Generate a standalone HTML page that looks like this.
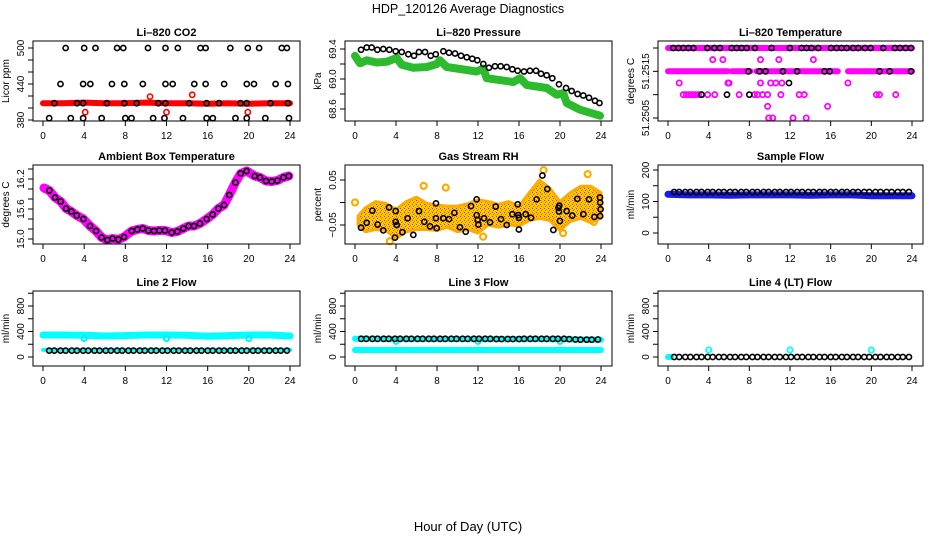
<!DOCTYPE html>
<html><head><meta charset="utf-8">
<style>
html,body{margin:0;padding:0;background:#fff;}
svg{display:block;font-family:"Liberation Sans",Arial,sans-serif;}
</style></head>
<body>
<svg id="chart" width="936" height="540" viewBox="0 0 936 540">
<defs>
<pattern id="orangeTex" width="4" height="4" patternUnits="userSpaceOnUse">
<rect width="4" height="4" fill="#ffd400"/>
<rect x="0" y="0" width="1" height="1" fill="#ff2000"/>
<rect x="2" y="1" width="1" height="1" fill="#ff7000"/>
<rect x="1" y="2" width="1" height="1" fill="#ff3000"/>
<rect x="3" y="3" width="1" height="1" fill="#ff9000"/>
</pattern>
</defs>
<text x="468" y="13" text-anchor="middle" font-size="12.5">HDP_120126  Average Diagnostics</text>
<text x="468" y="531" text-anchor="middle" font-size="13">Hour of Day (UTC)</text>
</svg>
<script>
// ---------- data ----------
const xTicks = [0,4,8,12,16,20,24];

const co2H500 = [2.2,4.0,5.1,7.2,7.8,10.2,11.9,13.1,15.3,15.8,18.2,19.9,21.0,23.2,23.7];
const co2H440 = [1.7,3.9,4.6,6.7,7.9,9.7,11.9,12.6,14.7,15.8,17.6,19.8,20.5,22.6,23.8];
const co2H408 = [1.1,3.3,3.9,6.2,7.9,9.1,11.2,11.9,14.2,15.9,17.1,19.2,19.8,22.1,23.8];
const co2H383 = [0.6,2.7,3.9,5.7,8.0,8.6,10.7,11.8,13.6,15.9,16.5,18.7,19.8,21.6,23.9];
const co2Levels = [500,440,408,383];
const co2RedHours = [0,2,4,6,8,10,12,14,16,18,20,22,24];
const co2RedVals = [408,408,409,408,408,409,408,408,407,408,407,408,408];
const co2RedPtH = [4.1,12.0,19.9,10.4,14.5];
const co2RedPtV = [393,393,393,419,422];

const presH = [0.59,1.14,1.63,2.18,2.76,3.35,3.97,4.56,5.2,5.76,6.24,6.83,7.39,7.88,8.62,9.17,9.76,10.34,10.9,11.44,11.93,12.52,13.07,13.66,14.21,14.8,15.35,15.87,16.49,17.07,17.66,18.15,18.7,19.25,19.9,20.59,21.14,21.72,22.27,22.83,23.41,23.85];
const presV = [69.39,69.42,69.42,69.39,69.40,69.39,69.37,69.36,69.33,69.31,69.36,69.36,69.31,69.33,69.37,69.35,69.34,69.31,69.29,69.27,69.25,69.20,69.15,69.17,69.17,69.16,69.13,69.11,69.10,69.11,69.11,69.07,69.05,69.01,68.93,68.88,68.84,68.80,68.78,68.75,68.71,68.68];
const presGreenH = [0,0.49,1.14,2.12,3.1,4.07,4.56,5.69,7,7.97,8.29,8.95,10.9,11.87,12.52,12.85,15.44,16.1,16.75,18.7,19.68,20.32,20.65,21.95,23.9];
const presGreenV = [69.31,69.21,69.25,69.22,69.23,69.28,69.19,69.15,69.16,69.20,69.25,69.16,69.12,69.10,69.14,69.01,68.96,69.01,68.92,68.88,68.79,68.81,68.68,68.59,68.51];

const tTop = 51.2520, tMid = 51.2515;
const tMagSegStart = [0,6.3,8.7,17.7];
const tMagSegEnd = [5.9,8.1,16.7,24];
const tBlackTopH = [0.52,1.02,1.5,2.0,2.5,3.87,4.56,5.11,6.26,6.75,7.24,7.74,8.55,10.19,11.99,13.14,13.63,14.12,14.78,16.03,16.58,17.08,17.57,18.22,18.71,19.37,19.93,21.17,22.32,22.81,23.37,23.9];
const tBlackMidH = [7.9,9.0,9.6,11.3,12.7,15.4,15.9,20.8,21.8,23.9];
const tBlackOthH = [3.3,5.8,8.0,11.9];
const tBlackOthV = [51.2510,51.2510,51.2510,51.25125];
const tMagH = [4.4,5.4,9.1,10.9,14.3, 1.1,5.9,6.0,9.1,10.1,10.6,11.2,17.7, 1.5,1.8,2.1,2.4,2.7,3.0,3.3,3.9,4.6,7.0,8.5,8.8,9.3,9.8,11.1,12.9,13.4,20.5,20.8,22.4, 9.8,15.7, 9.9,10.3,12.3,13.6];
const tMagV = [51.25175,51.25175,51.25175,51.25175,51.25175, 51.25125,51.25125,51.25125,51.25125,51.25125,51.25125,51.25125,51.25125, 51.2510,51.2510,51.2510,51.2510,51.2510,51.2510,51.2510,51.2510,51.2510,51.2510,51.2510,51.2510,51.2510,51.2510,51.2510,51.2510,51.2510,51.2510,51.2510,51.2510, 51.25075,51.25075, 51.2505,51.2505,51.2505,51.2505];

const ambH = [0.61,1.17,1.72,2.24,2.75,3.28,3.92,4.57,5.15,5.70,6.25,6.77,7.32,7.87,8.62,9.16,9.69,10.23,10.79,11.30,11.85,12.51,13.05,13.63,14.16,14.67,15.25,15.91,16.49,17.04,17.59,18.10,18.69,19.21,19.79,20.57,21.09,21.67,22.23,22.77,23.36,23.88];
const ambV = [15.97,15.83,15.75,15.61,15.55,15.47,15.40,15.26,15.16,15.03,14.98,15.01,14.99,15.04,15.16,15.19,15.21,15.17,15.16,15.17,15.17,15.13,15.15,15.21,15.26,15.26,15.31,15.40,15.49,15.61,15.68,15.88,16.13,16.31,16.36,16.26,16.23,16.16,16.15,16.17,16.23,16.26];
const ambLineH = [0.1,0.61,1.17,1.72,2.24,2.75,3.28,3.92,4.57,5.15,5.70,6.25,6.77,7.32,7.87,8.62,9.16,9.69,10.23,10.79,11.30,11.85,12.51,13.05,13.63,14.16,14.67,15.25,15.91,16.49,17.04,17.59,18.10,18.69,19.21,19.79,20.57,21.09,21.67,22.23,22.77,23.36,23.88];
const ambLineV = [16.02,15.97,15.83,15.75,15.61,15.55,15.47,15.40,15.26,15.16,15.03,14.98,15.01,14.99,15.04,15.16,15.19,15.21,15.17,15.16,15.17,15.17,15.13,15.15,15.21,15.26,15.26,15.31,15.40,15.49,15.61,15.68,15.88,16.13,16.31,16.36,16.26,16.23,16.16,16.15,16.17,16.23,16.26];

const rhH = [0.59,1.14,1.69,2.21,2.76,3.32,3.97,3.97,4.07,3.9,4.62,5.14,5.69,6.24,6.76,7.32,7.9,7.9,7.97,8.62,9.17,9.69,10.24,10.8,11.32,11.87,11.87,11.97,12.03,12.59,13.17,13.73,14.24,14.8,15.35,15.87,15.93,15.99,15.99,16.65,17.17,17.72,18.28,18.76,19.35,19.84,19.9,19.93,19.99,20.65,21.2,21.69,22.28,22.83,23.35,23.9,23.92,23.96,23.92];
const rhV = [-0.056,-0.045,-0.018,-0.049,-0.062,-0.011,-0.019,-0.043,-0.050,-0.078,-0.066,-0.035,-0.072,-0.019,-0.043,-0.053,-0.002,-0.035,-0.057,-0.035,-0.037,-0.023,-0.055,-0.065,-0.008,0.007,-0.028,-0.039,-0.049,-0.035,-0.044,-0.009,-0.037,-0.050,-0.026,-0.004,-0.028,-0.034,-0.060,-0.026,-0.034,0.007,0.060,0.030,-0.061,-0.012,-0.020,-0.007,-0.041,-0.019,-0.029,0.008,-0.026,0.007,-0.032,0.011,0.000,-0.015,-0.030];
const rhEnvH = [0.3,1,2,3,4,5,6,7,8,9,10,11,12,13,14,15,16,17,18,19,20,21,22,23,24];
const rhLow = [-0.05,-0.065,-0.06,-0.062,-0.08,-0.065,-0.06,-0.06,-0.062,-0.055,-0.065,-0.06,-0.068,-0.05,-0.055,-0.05,-0.052,-0.04,-0.035,-0.04,-0.062,-0.042,-0.035,-0.045,-0.035];
const rhHigh = [-0.03,-0.012,0.002,-0.002,-0.015,0.002,0.012,-0.002,-0.006,-0.008,-0.008,-0.003,0.006,0.002,-0.004,0.002,-0.008,0.022,0.05,0.032,0.002,0.022,0.036,0.036,0.022];
const rhOutH = [0.0,6.7,8.85,3.4,12.5,22.7,18.4,23.3,20.3];
const rhOutV = [0.0,0.037,0.033,-0.086,-0.076,0.063,0.072,-0.043,-0.068];

const flowH = [0.6,1.1,1.7,2.2,2.8,3.3,3.9,4.4,5.0,5.5,6.1,6.6,7.2,7.7,8.3,8.8,9.4,9.9,10.5,11.0,11.6,12.1,12.7,13.2,13.8,14.3,14.9,15.4,16.0,16.5,17.1,17.6,18.2,18.7,19.3,19.8,20.4,20.9,21.5,22.0,22.6,23.1,23.7];
const sampleBlack = [130,130,130,130,130,130,130,130,130,130,130,130,130,130,130,130,130,130,130,130,130,130,130,130,130,130,130,130,130,130,130,130,130,130,130,130,130,130,130,130,130,130,130];
const bandH = [0,2,4,6,8,10,12,14,16,18,20,22,24];
const sampleBlue = [123,121,121,120,121,121,121,120,121,121,118,118,118];

const line2Upper = [345,345,340,330,335,345,345,340,325,335,345,345,330];
const line2Lower = [112,112,112,112,112,112,112,112,112,112,112,112,112];
const line2Black = [100,100,100,100,100,100,100,100,100,100,100,100,100,100,100,100,100,100,100,100,100,100,100,100,100,100,100,100,100,100,100,100,100,100,100,100,100,100,100,100,100,100,100];
const line2DipH = [4,12,20];
const line2DipV = [290,290,290];

const line3Upper = [285,285,280,280,280,280,280,280,280,280,280,275,270];
const line3Lower = [110,110,110,110,110,110,110,110,110,110,110,110,110];
const line3Black = [285,285,285,285,285,285,285,285,285,285,285,285,285,285,285,285,285,285,285,285,285,285,285,285,282,282,282,282,282,285,285,285,285,285,285,285,285,280,275,272,272,272,275];
const line3DipH = [4,12,20];
const line3DipV = [245,245,245];

const line4Black = [0,0,0,0,0,0,0,0,0,0,0,0,0,0,0,0,0,0,0,0,0,0,0,0,0,0,0,0,0,0,0,0,0,0,0,0,0,0,0,0,0,0,0];
const line4CyanH = [4,12,20];
const line4CyanV = [110,110,110];

// ---------- helpers ----------
const NS = "http://www.w3.org/2000/svg";
const svg = document.getElementById('chart');
function mk(tag, attrs, parent){
  const e = document.createElementNS(NS, tag);
  for (const k in attrs) e.setAttribute(k, attrs[k]);
  (parent||svg).appendChild(e);
  return e;
}
function panel(c){
  const g = mk('g', {});
  
  
  const x = h => c.hx[0] + (h/24)*(c.hx[1]-c.hx[0]);
  const y = v => c.ya[1] + (v - c.ya[0])*(c.ya[3]-c.ya[1])/(c.ya[2]-c.ya[0]);
  const plot = mk('g', {}, g);
  
  
  const ttl = mk('text', {x:(c.bx[0]+c.bx[1])/2, y:c.by[0]-5, 'text-anchor':'middle','font-size':'11','font-weight':'bold'}, g);
  ttl.textContent = c.title;
  
  
  const xa = mk('g', {}, g);
  
  
  xTicks.forEach(t => {
    mk('line', {x1:x(t), x2:x(t), y1:c.by[1], y2:c.by[1]+5, stroke:'#000','stroke-width':1}, xa);
    const tl = mk('text', {x:x(t), y:c.by[1]+18, 'text-anchor':'middle','font-size':'10'}, xa);
    tl.textContent = t;
    
    
  });
  const ya = mk('g', {}, g);
  
  
  c.yticks.forEach(t => {
    mk('line', {x1:c.bx[0]-5, x2:c.bx[0], y1:y(t), y2:y(t), stroke:'#000','stroke-width':1}, ya);
  });
  c.ylabels.forEach(t => {
    const lx = c.bx[0]-9, ly = y(t);
    const tl = mk('text', {x:lx, y:ly, 'text-anchor':'middle','font-size':'10', transform:`rotate(-90 ${lx} ${ly})`}, ya);
    tl.textContent = c.fmt ? c.fmt(t) : t;
    
    
  });
  const yx = c.bx[0]-24, yy = (c.by[0]+c.by[1])/2;
  const yt = mk('text', {x:yx, y:yy, 'text-anchor':'middle','font-size':'10', transform:`rotate(-90 ${yx} ${yy})`}, g);
  yt.textContent = c.ytitle;
  
  
  const box = mk('rect', {x:c.bx[0], y:c.by[0], width:c.bx[1]-c.bx[0], height:c.by[1]-c.by[0], fill:'none', stroke:'#000','stroke-width':1}, g);
  
  
  return {x, y, g:plot};
}
function line(p, hs, vs, color, w, name){
  const d = hs.map((h,i)=>(i?'L':'M')+p.x(h).toFixed(1)+' '+p.y(vs[i]).toFixed(1)).join(' ');
  const e = mk('path', {d, fill:'none', stroke:color, 'stroke-width':w, 'stroke-linejoin':'round','stroke-linecap':'round'}, p.g);
  
  
  return e;
}
function pts(p, hs, vs, color, name, r, sw){
  const grp = mk('g', {}, p.g);
  
  
  hs.forEach((h,i) => {
    const e = mk('circle', {cx:p.x(h), cy:p.y(vs[i]), r:r||2.6, fill:'none', stroke:color, 'stroke-width':sw||1.6}, grp);
    
    
  });
}
const fill = (arr, v) => arr.map(() => v);

// ---------- panels ----------
const pCO2 = panel({name:'co2-panel', title:'Li\u2013820 CO2', ytitle:'Licor ppm', bx:[33,300], by:[41,121], hx:[43,290], ya:[380,120,500,48], yticks:[380,400,420,440,460,480,500], ylabels:[380,440,500]});
line(pCO2, co2RedHours, co2RedVals, '#ff0000', 6, 'co2-red-series');
pts(pCO2, co2RedPtH, co2RedPtV, '#ff0000', 'co2-red-outliers');
pts(pCO2, co2H500, fill(co2H500, co2Levels[0]), '#000', 'co2-black-500');
pts(pCO2, co2H440, fill(co2H440, co2Levels[1]), '#000', 'co2-black-440');
pts(pCO2, co2H408, fill(co2H408, co2Levels[2]), '#000', 'co2-black-408');
pts(pCO2, co2H383, fill(co2H383, co2Levels[3]), '#000', 'co2-black-383');

const pPres = panel({name:'pressure-panel', title:'Li\u2013820 Pressure', ytitle:'kPa', bx:[345,612], by:[41,121], hx:[355,601], ya:[68.6,109,69.4,49], yticks:[68.6,68.8,69.0,69.2,69.4], ylabels:[68.6,69.0,69.4], fmt:v=>v.toFixed(1)});
line(pPres, presGreenH, presGreenV, '#2cbb2c', 8, 'pressure-green-series');
pts(pPres, presH, presV, '#000', 'pressure-black-series');

const pTemp = panel({name:'li820-temp-panel', title:'Li\u2013820 Temperature', ytitle:'degrees C', bx:[658,923], by:[41,121], hx:[668,912], ya:[51.2505,118,51.2520,48], yticks:[51.2505,51.2510,51.2515,51.2520], ylabels:[51.2505,51.2515], fmt:v=>v.toFixed(4)});
line(pTemp, [0,24], [tTop,tTop], '#ff00ff', 6, 'temp-magenta-top');
tMagSegStart.forEach((s,i) => line(pTemp, [s, tMagSegEnd[i]], [tMid,tMid], '#ff00ff', 6, 'temp-magenta-mid'));
pts(pTemp, tMagH, tMagV, '#ff00ff', 'temp-magenta-points', 2.6, 1.8);
pts(pTemp, tBlackTopH, fill(tBlackTopH, tTop), '#000', 'temp-black-top');
pts(pTemp, tBlackMidH, fill(tBlackMidH, tMid), '#000', 'temp-black-mid');
pts(pTemp, tBlackOthH, tBlackOthV, '#000', 'temp-black-other');

const pAmb = panel({name:'ambient-temp-panel', title:'Ambient Box Temperature', ytitle:'degrees C', bx:[33,300], by:[165,244], hx:[43,290], ya:[15.0,239,16.2,179], yticks:[15.0,15.2,15.4,15.6,15.8,16.0,16.2,16.4], ylabels:[15.0,15.6,16.2], fmt:v=>v.toFixed(1)});
line(pAmb, ambLineH, ambLineV, '#ff00ff', 9, 'ambient-magenta-series');
pts(pAmb, ambH, ambV, '#000', 'ambient-black-series');

const pRH = panel({name:'rh-panel', title:'Gas Stream RH', ytitle:'percent', bx:[345,612], by:[165,244], hx:[355,601], ya:[-0.05,225,0.05,180], yticks:[-0.05,0,0.05], ylabels:[-0.05,0.05], fmt:v=>v<0?'\u22120.05':'0.05'});
{
  const d = rhEnvH.map((h,i)=>(i?'L':'M')+pRH.x(h).toFixed(1)+' '+pRH.y(rhHigh[i]).toFixed(1)).join(' ') + ' ' +
    rhEnvH.slice().reverse().map((h,i)=>'L'+pRH.x(h).toFixed(1)+' '+pRH.y(rhLow[rhEnvH.length-1-i]).toFixed(1)).join(' ') + ' Z';
  const e = mk('path', {d, fill:'url(#orangeTex)', stroke:'#ffaa00', 'stroke-width':3, 'stroke-linejoin':'round'}, pRH.g);
  
  
}
pts(pRH, rhOutH, rhOutV, '#ffaa00', 'rh-orange-outliers', 3, 2.2);
pts(pRH, rhH, rhV, '#000', 'rh-black-series');

const pSam = panel({name:'sample-flow-panel', title:'Sample Flow', ytitle:'ml/min', bx:[658,923], by:[165,244], hx:[668,912], ya:[0,233,200,170], yticks:[0,50,100,150,200], ylabels:[0,100,200]});
line(pSam, bandH, sampleBlue, '#1a1aee', 7, 'sample-blue-series');
pts(pSam, flowH, sampleBlack, '#000', 'sample-black-series');

const flowTicks = [0,200,400,600,800,1000];
const pL2 = panel({name:'line2-flow-panel', title:'Line 2 Flow', ytitle:'ml/min', bx:[33,300], by:[291,366], hx:[43,290], ya:[0,357,800,306], yticks:flowTicks, ylabels:[0,400,800]});
line(pL2, bandH, line2Upper, '#00ffff', 7, 'line2-cyan-upper');
line(pL2, bandH, line2Lower, '#00ffff', 4, 'line2-cyan-lower');
pts(pL2, line2DipH, line2DipV, '#00eeee', 'line2-cyan-dips', 2.6, 1.8);
pts(pL2, flowH, line2Black, '#000', 'line2-black-series');

const pL3 = panel({name:'line3-flow-panel', title:'Line 3 Flow', ytitle:'ml/min', bx:[345,612], by:[291,366], hx:[355,601], ya:[0,357,800,306], yticks:flowTicks, ylabels:[0,400,800]});
line(pL3, bandH, line3Upper, '#00ffff', 6, 'line3-cyan-upper');
line(pL3, bandH, line3Lower, '#00ffff', 6, 'line3-cyan-lower');
pts(pL3, line3DipH, line3DipV, '#00eeee', 'line3-cyan-dips', 2.6, 1.8);
pts(pL3, flowH, line3Black, '#000', 'line3-black-series');

const pL4 = panel({name:'line4-flow-panel', title:'Line 4 (LT) Flow', ytitle:'ml/min', bx:[658,923], by:[291,366], hx:[668,912], ya:[0,357,800,306], yticks:flowTicks, ylabels:[0,400,800]});
line(pL4, [0,0.3], [0,0], '#00ffff', 6, 'line4-cyan-start');
pts(pL4, line4CyanH, line4CyanV, '#00ffff', 'line4-cyan-points', 2.6, 1.8);
pts(pL4, flowH, line4Black, '#000', 'line4-black-series');
</script>
</body></html>
